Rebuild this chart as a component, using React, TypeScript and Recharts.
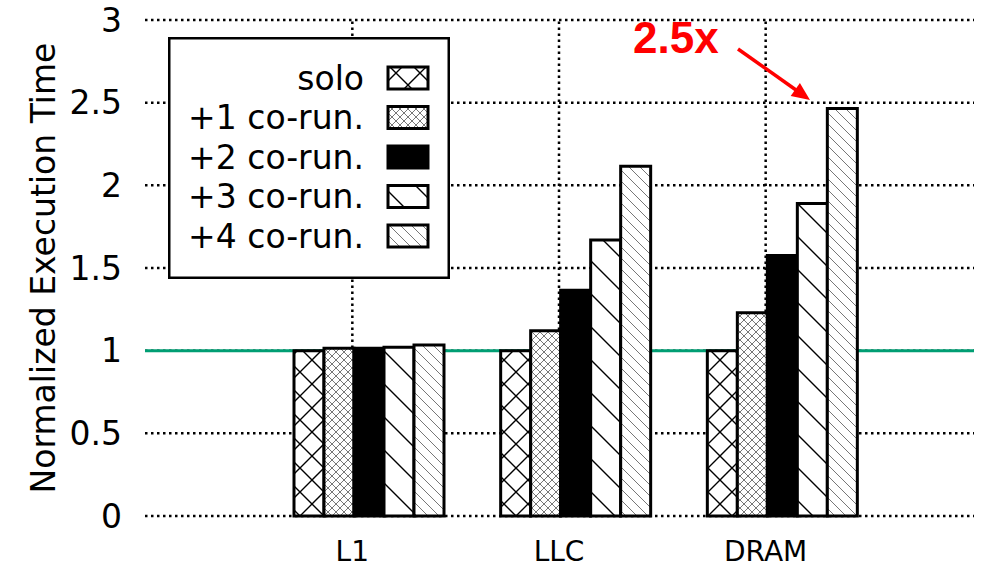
import { Bar, BarChart, CartesianGrid, Legend, ReferenceLine, XAxis, YAxis } from "recharts";

const categories = ["L1", "LLC", "DRAM"];
const solo = [1.0, 1.0, 1.0];
const coRun1 = [1.015, 1.12, 1.23];
const coRun2 = [1.015, 1.365, 1.575];
const coRun3 = [1.02, 1.67, 1.89];
const coRun4 = [1.035, 2.115, 2.465];
const yTicks = [0, 0.5, 1, 1.5, 2, 2.5, 3];
const seriesNames = ["solo", "+1 co-run.", "+2 co-run.", "+3 co-run.", "+4 co-run."];
const seriesKeys = ["solo", "c1", "c2", "c3", "c4"];
const patternIds = ["pat-solo", "pat-c1", "pat-c2", "pat-c3", "pat-c4"];

const data = categories.map((name, i) => ({
  name,
  solo: solo[i],
  c1: coRun1[i],
  c2: coRun2[i],
  c3: coRun3[i],
  c4: coRun4[i],
}));

const FONT = "'DejaVu Sans', sans-serif";
const TICK_SHIFT = -16; // gnuplot puts the tick left of the cluster centre
const DOTS = "2.5 3.5";

function Patterns() {
  return (
    <defs>
      <pattern id="pat-solo" width="24" height="24" patternUnits="userSpaceOnUse">
        <rect width="24" height="24" fill="#fff" />
        <path
          d="M0,0 L24,24 M-6,18 L6,30 M18,-6 L30,6 M24,0 L0,24 M18,30 L30,18 M-6,6 L6,-6"
          stroke="#000"
          strokeWidth="1.4"
        />
      </pattern>
      <pattern id="pat-c1" width="8" height="8" patternUnits="userSpaceOnUse">
        <rect width="8" height="8" fill="#fff" />
        <path
          d="M0,0 L8,8 M-2,6 L2,10 M6,-2 L10,2 M8,0 L0,8 M6,10 L10,6 M-2,2 L2,-2"
          stroke="#777"
          strokeWidth="1"
        />
      </pattern>
      <pattern id="pat-c2" width="8" height="8" patternUnits="userSpaceOnUse">
        <rect width="8" height="8" fill="#000" />
      </pattern>
      <pattern id="pat-c3" width="33" height="33" patternUnits="userSpaceOnUse">
        <rect width="33" height="33" fill="#fff" />
        <path d="M0,0 L33,33 M-6,27 L6,39 M27,-6 L39,6" stroke="#000" strokeWidth="1.4" />
      </pattern>
      <pattern id="pat-c4" width="11" height="11" patternUnits="userSpaceOnUse">
        <rect width="11" height="11" fill="#fff" />
        <path d="M0,0 L11,11 M-3,8 L3,14 M8,-3 L14,3" stroke="#777" strokeWidth="1" />
      </pattern>
    </defs>
  );
}

function LegendBox() {
  return (
    <svg width={282} height={242} style={{ display: "block" }}>
      <rect x={1.25} y={1.25} width={279.5} height={239.5} fill="#fff" stroke="#000" strokeWidth={2.5} />
      {seriesNames.map((n, i) => (
        <g key={n}>
          <text
            x={196}
            y={41 + i * 39.5}
            textAnchor="end"
            dominantBaseline="central"
            fontSize={33}
            fontFamily={FONT}
            fill="#000"
          >
            {n}
          </text>
          <rect
            x={220}
            y={30 + i * 39.5}
            width={40}
            height={22}
            fill={`url(#${patternIds[i]})`}
            stroke="#000"
            strokeWidth={3}
          />
        </g>
      ))}
    </svg>
  );
}

const XTick = (props: any) => (
  <text
    x={props.x + TICK_SHIFT}
    y={props.y}
    dy="0.71em"
    textAnchor="middle"
    fontSize={28}
    fontFamily={FONT}
    fill="#000"
  >
    {props.payload.value}
  </text>
);

// vertical grid line, drawn at the (shifted) tick position
const ShiftedGridLine = (props: any) => (
  <line
    x1={props.x1 + TICK_SHIFT}
    x2={props.x2 + TICK_SHIFT}
    y1={props.y1}
    y2={props.y2}
    stroke="#000"
    strokeWidth={2.5}
    strokeDasharray={DOTS}
  />
);

export default function App() {
  return (
    <div style={{ position: "absolute", left: 0, top: 0, width: 981, height: 570, background: "#fff" }}>
      <BarChart
        width={981}
        height={570}
        data={data}
        margin={{ top: 20, right: 7, left: 0, bottom: 0 }}
        barCategoryGap={29}
        barGap={0}
        style={{ fontFamily: FONT }}
      >
        <Patterns />
        <CartesianGrid vertical={false} stroke="#000" strokeWidth={2.5} strokeDasharray={DOTS} />
        <XAxis
          dataKey="name"
          padding={{ left: 120, right: 89 }}
          axisLine={false}
          tickLine={false}
          tickSize={0}
          tickMargin={25}
          height={54}
          tick={XTick}
          interval={0}
        />
        <YAxis
          domain={[0, 3]}
          ticks={yTicks}
          axisLine={false}
          tickLine={false}
          tickSize={0}
          tickMargin={23}
          width={145}
          tick={{ fontSize: 33, fill: "#000", fontFamily: FONT }}
          label={{
            value: "Normalized Execution Time",
            angle: -90,
            position: "insideLeft",
            offset: 43,
            style: { textAnchor: "middle", fontSize: 33, fill: "#000", fontFamily: FONT },
          }}
        />
        {categories.map((c) => (
          <ReferenceLine key={c} x={c} shape={ShiftedGridLine} zIndex={-60} />
        ))}
        <ReferenceLine y={1} stroke="#009e73" strokeWidth={3} zIndex={-50} />
        {seriesKeys.map((k, i) => (
          <Bar
            key={k}
            dataKey={k}
            name={seriesNames[i]}
            fill={`url(#${patternIds[i]})`}
            stroke="#000"
            strokeWidth={3}
            isAnimationActive={false}
          />
        ))}
        <Legend
          layout="horizontal"
          verticalAlign="middle"
          align="center"
          content={() => <LegendBox />}
          wrapperStyle={{ position: "absolute", left: 168, top: 37, width: 282, height: 242 }}
        />
      </BarChart>
      <svg
        width={981}
        height={570}
        style={{ position: "absolute", left: 0, top: 0, pointerEvents: "none" }}
      >
        <text
          x={633}
          y={53}
          fontSize={44}
          fontWeight="bold"
          fontFamily="'Liberation Sans', Arial, sans-serif"
          fill="#ff0000"
        >
          2.5x
        </text>
        <line x1={738} y1={49} x2={796} y2={90} stroke="#ff0000" strokeWidth={3.5} />
        <polygon points="810,100 790.7,96.1 799.9,83.1" fill="#ff0000" />
      </svg>
    </div>
  );
}
